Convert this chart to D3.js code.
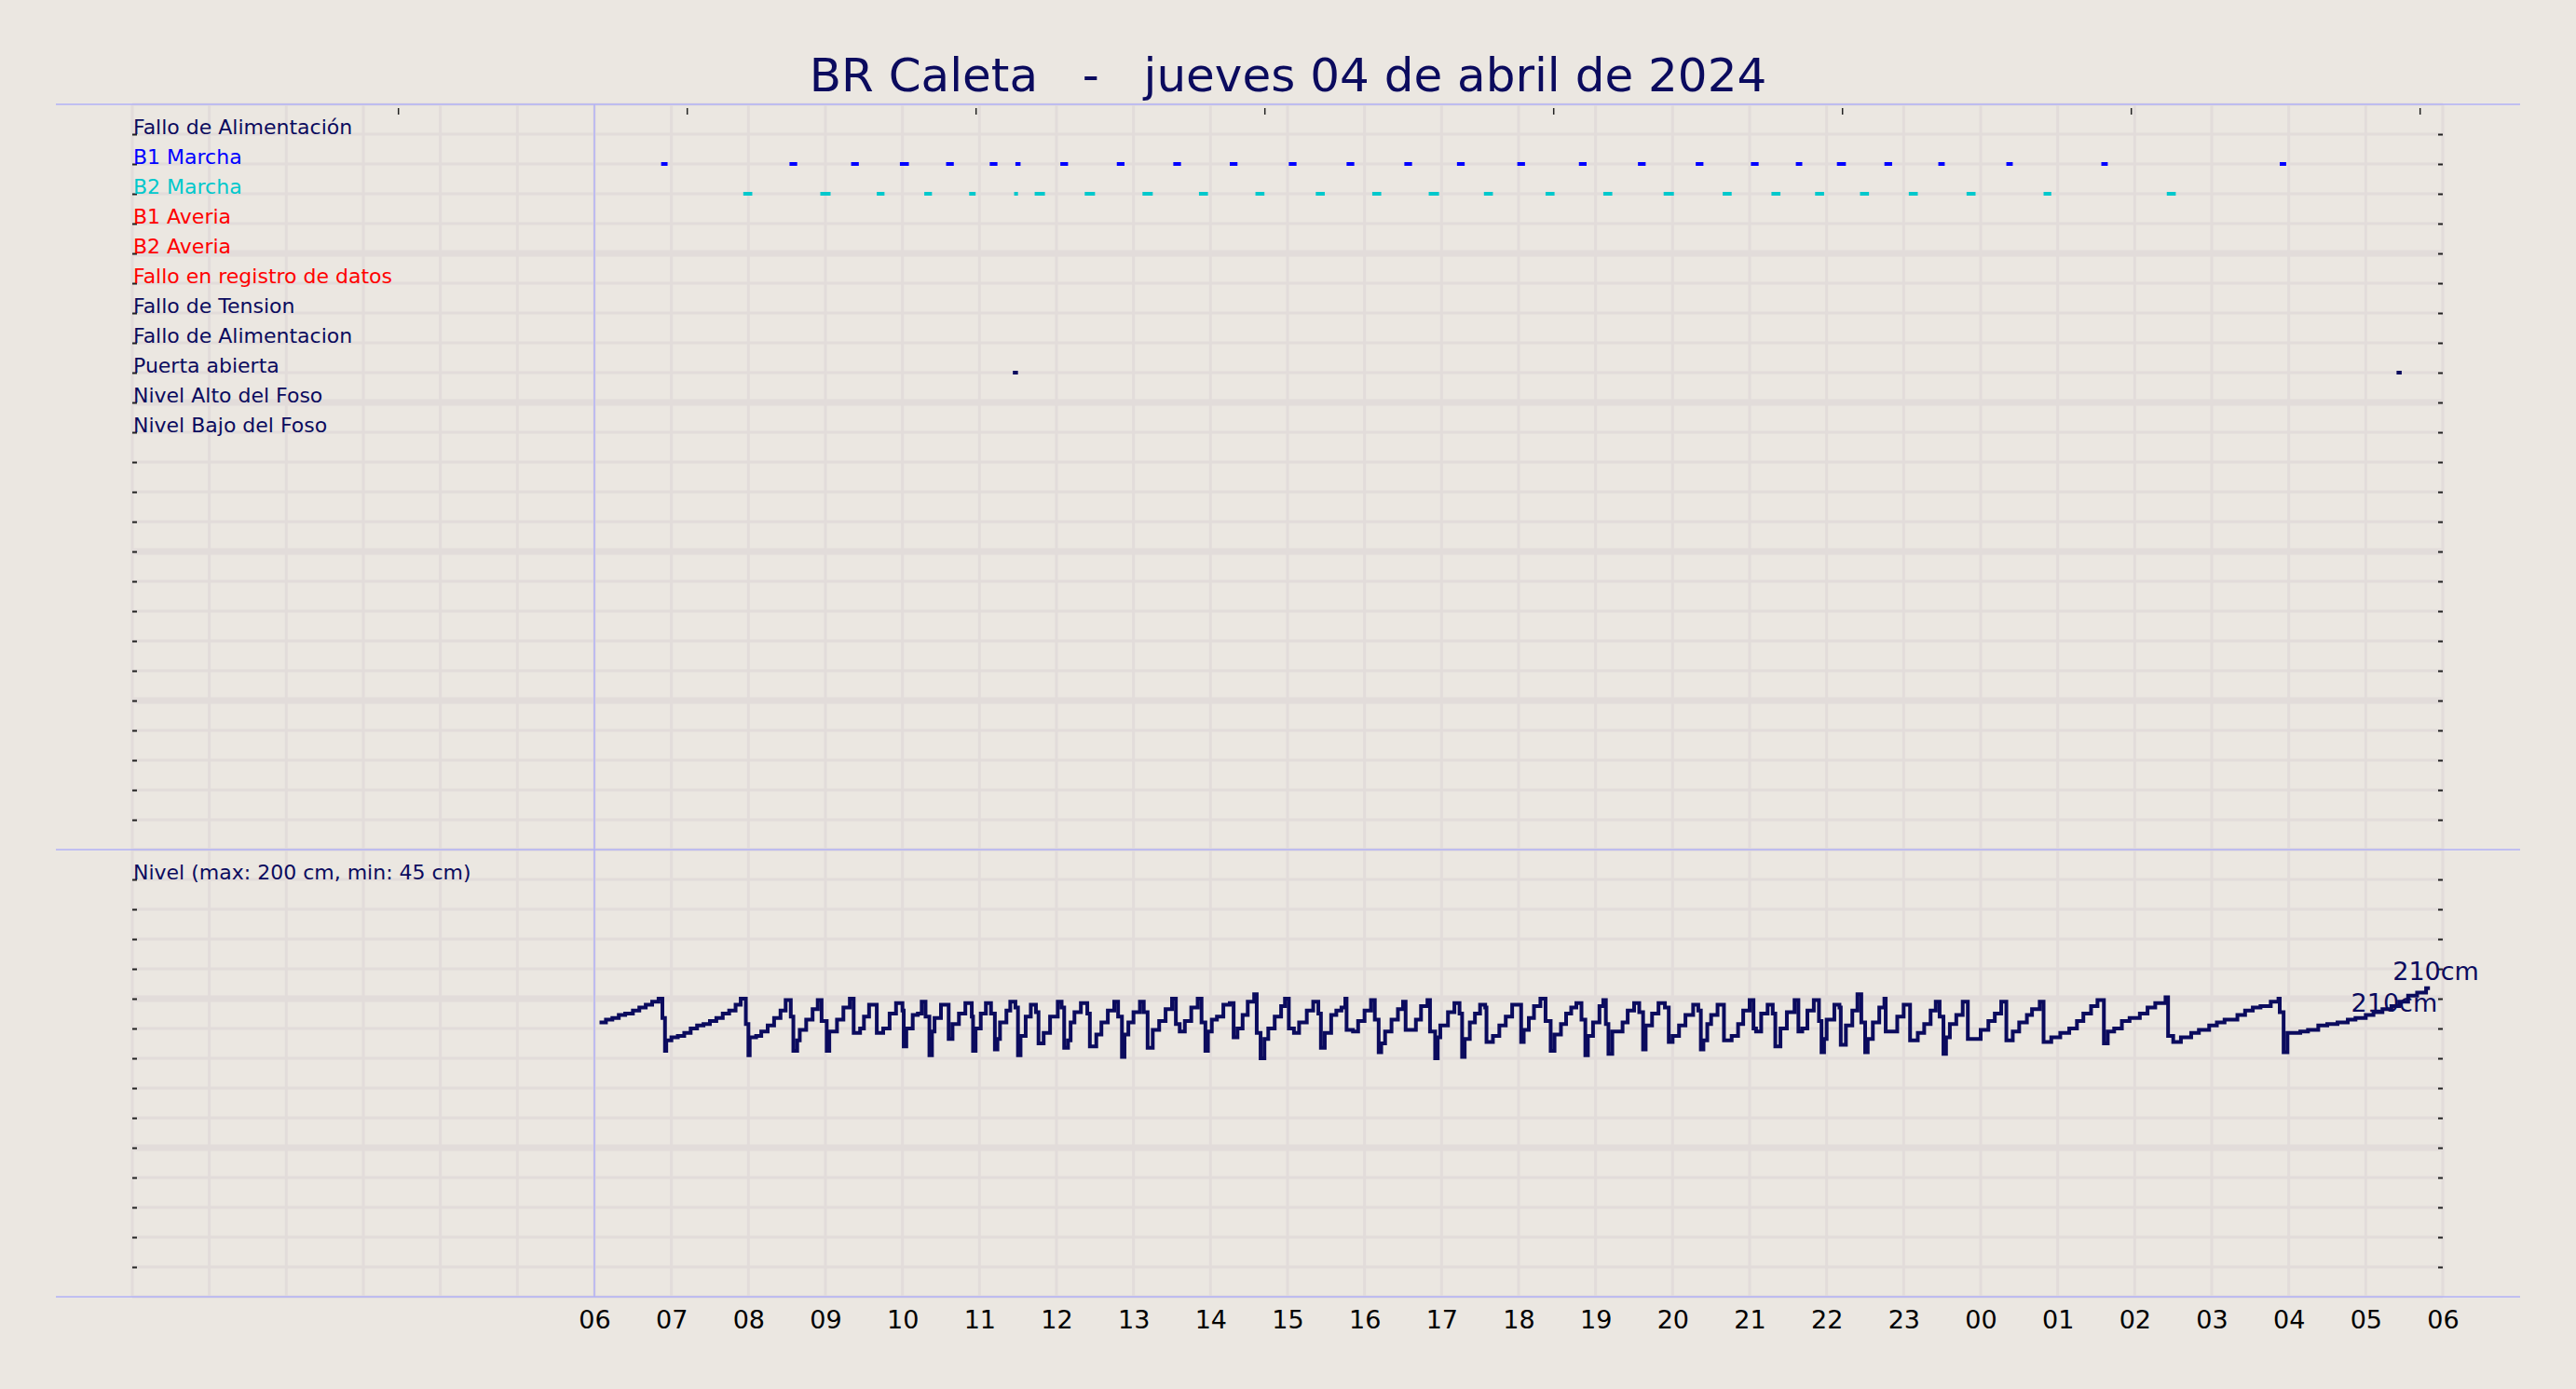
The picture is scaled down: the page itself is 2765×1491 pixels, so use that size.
<!DOCTYPE html>
<html lang="es">
<head>
  <meta charset="UTF-8">
  <title>BR Caleta</title>
  <style>
    body { margin: 0; background: #ebe7e1; }
    svg { display: block; }
  </style>
</head>
<body>
<script src="https://cdn.jsdelivr.net/npm/d3@7"></script>
<script>
const width = 2765, height = 1491

const titulo = "BR Caleta   -   jueves 04 de abril de 2024"

// filas del panel de señales (de arriba abajo)
const senales = ["Fallo de Alimentación", "B1 Marcha", "B2 Marcha", "B1 Averia", "B2 Averia",
  "Fallo en registro de datos", "Fallo de Tension", "Fallo de Alimentacion", "Puerta abierta",
  "Nivel Alto del Foso", "Nivel Bajo del Foso"]
const coloresSenal = ["#0b0b5e", "#0000ff", "#00c8cc", "#ff0000", "#ff0000",
  "#ff0000", "#0b0b5e", "#0b0b5e", "#0b0b5e", "#0b0b5e", "#0b0b5e"]

// marchas de bombas y eventos [inicio, fin]
const b1Marcha = [["06:52","06:57"],["08:32","08:38"],["09:20","09:26"],["09:58","10:05"],["10:34","10:40"],
  ["11:08","11:14"],["11:28","11:32"],["12:03","12:09"],["12:47","12:53"],["13:31","13:37"],["14:15","14:21"],
  ["15:01","15:07"],["15:46","15:52"],["16:31","16:37"],["17:12","17:18"],["17:59","18:05"],["18:47","18:53"],
  ["19:33","19:39"],["20:18","20:24"],["21:01","21:07"],["21:36","21:41"],["22:08","22:15"],["22:45","22:51"],
  ["23:27","23:32"],["00:20","00:25"],["01:34","01:39"],["03:53","03:58"]]
const b2Marcha = [["07:56","08:03"],["08:56","09:04"],["09:40","09:46"],["10:17","10:23"],["10:52","10:57"],
  ["11:27","11:30"],["11:43","11:51"],["12:22","12:30"],["13:07","13:15"],["13:51","13:58"],["14:35","14:42"],
  ["15:22","15:29"],["16:06","16:13"],["16:50","16:58"],["17:33","17:40"],["18:21","18:28"],["19:06","19:13"],
  ["19:53","20:01"],["20:39","20:46"],["21:17","21:24"],["21:51","21:58"],["22:26","22:33"],["23:04","23:11"],
  ["23:49","23:56"],["00:49","00:55"],["02:25","02:32"]]
const puertaAbierta = [["11:26","11:30"],["05:24","05:28"]]

// nivel del foso en cm [hora, cm]
const nivel = [["06:04",184],["06:09",186],["06:14",187],["06:19",189],["06:24",190],["06:30",192],["06:35",194],
  ["06:40",196],["06:45",198],["06:50",200],["06:53",187],["06:55",165],["06:56",172],["07:00",174],["07:05",175],
  ["07:10",177],["07:15",180],["07:20",182],["07:25",183],["07:30",185],["07:35",187],["07:40",190],["07:45",192],
  ["07:50",196],["07:54",200],["07:58",183],["08:00",162],["08:01",174],["08:06",175],["08:10",178],["08:15",182],
  ["08:20",187],["08:25",192],["08:29",199],["08:33",188],["08:35",165],["08:38",172],["08:40",179],["08:45",186],
  ["08:50",193],["08:54",199],["08:57",185],["09:01",165],["09:03",178],["09:09",186],["09:14",194],["09:19",200],
  ["09:22",177],["09:27",180],["09:30",188],["09:34",196],["09:40",177],["09:45",180],["09:50",190],["09:55",197],
  ["10:00",192],["10:01",168],["10:03",180],["10:08",189],["10:12",190],["10:15",198],["10:18",188],["10:21",162],
  ["10:23",178],["10:25",187],["10:30",196],["10:36",173],["10:39",183],["10:44",190],["10:49",197],["10:54",188],
  ["10:55",165],["10:57",180],["11:01",190],["11:05",197],["11:09",190],["11:12",166],["11:14",173],["11:16",184],
  ["11:21",192],["11:24",198],["11:28",194],["11:30",162],["11:32",175],["11:36",188],["11:40",196],["11:44",191],
  ["11:46",170],["11:50",177],["11:55",188],["12:01",198],["12:04",194],["12:06",167],["12:09",172],["12:11",184],
  ["12:14",191],["12:19",197],["12:24",190],["12:26",168],["12:31",176],["12:35",184],["12:40",192],["12:45",198],
  ["12:48",188],["12:51",161],["12:53",176],["12:56",184],["13:00",191],["13:05",198],["13:08",191],["13:11",167],
  ["13:15",179],["13:20",185],["13:25",193],["13:30",200],["13:33",183],["13:36",178],["13:40",185],["13:45",194],
  ["13:50",200],["13:53",184],["13:56",165],["13:58",178],["14:01",186],["14:05",188],["14:10",196],["14:15",197],
  ["14:18",174],["14:21",180],["14:25",189],["14:29",198],["14:34",203],["14:36",177],["14:39",160],["14:42",173],
  ["14:45",180],["14:50",188],["14:55",195],["14:58",200],["15:01",180],["15:05",177],["15:09",184],["15:15",192],
  ["15:20",198],["15:24",190],["15:26",167],["15:29",177],["15:34",189],["15:38",192],["15:42",194],["15:45",200],
  ["15:46",179],["15:51",178],["15:55",185],["16:00",192],["16:05",199],["16:08",186],["16:11",164],["16:13",170],
  ["16:16",178],["16:21",186],["16:26",193],["16:30",198],["16:32",179],["16:40",186],["16:44",195],["16:49",199],
  ["16:51",178],["16:55",160],["16:57",174],["16:59",182],["17:05",191],["17:10",197],["17:14",190],["17:16",161],
  ["17:18",173],["17:22",184],["17:26",190],["17:30",196],["17:34",194],["17:35",171],["17:40",175],["17:45",182],
  ["17:50",188],["17:55",196],["18:02",171],["18:04",179],["18:08",187],["18:12",195],["18:17",200],["18:21",185],
  ["18:25",165],["18:28",176],["18:33",183],["18:37",190],["18:41",194],["18:45",197],["18:49",186],["18:52",162],
  ["18:54",175],["18:58",184],["19:03",195],["19:06",199],["19:08",183],["19:10",163],["19:13",178],["19:21",184],
  ["19:25",192],["19:30",197],["19:34",191],["19:37",166],["19:39",182],["19:44",190],["19:49",197],["19:54",194],
  ["19:57",171],["20:00",175],["20:05",182],["20:10",189],["20:16",196],["20:20",192],["20:22",166],["20:24",172],
  ["20:27",183],["20:30",189],["20:35",196],["20:40",172],["20:46",175],["20:51",183],["20:55",192],["21:00",199],
  ["21:03",180],["21:05",178],["21:09",190],["21:14",196],["21:18",190],["21:20",168],["21:24",180],["21:29",191],
  ["21:35",199],["21:38",178],["21:41",180],["21:45",192],["21:50",199],["21:54",185],["21:56",164],["21:58",173],
  ["22:00",186],["22:06",196],["22:10",194],["22:11",169],["22:15",182],["22:20",192],["22:24",203],["22:27",184],
  ["22:30",164],["22:32",173],["22:36",184],["22:41",194],["22:45",200],["22:46",178],["22:55",188],["23:00",196],
  ["23:05",172],["23:11",177],["23:16",183],["23:21",192],["23:25",198],["23:28",188],["23:31",163],["23:33",174],
  ["23:36",183],["23:41",189],["23:46",198],["23:50",173],["00:00",179],["00:06",185],["00:11",190],["00:16",198],
  ["00:20",172],["00:25",178],["00:30",184],["00:36",189],["00:40",193],["00:46",198],["00:49",171],["00:55",174],
  ["01:02",177],["01:09",180],["01:15",185],["01:20",190],["01:26",195],["01:31",199],["01:36",170],["01:39",178],
  ["01:44",180],["01:50",185],["01:56",187],["02:04",190],["02:10",194],["02:16",197],["02:24",201],["02:26",175],
  ["02:30",171],["02:36",174],["02:44",177],["02:50",179],["02:58",182],["03:04",184],["03:10",186],["03:20",189],
  ["03:26",192],["03:32",194],["03:38",195],["03:46",198],["03:52",200],["03:53",191],["03:56",164],["03:59",177],
  ["04:09",178],["04:15",179],["04:23",182],["04:30",183],["04:38",184],["04:46",186],["04:52",187],["05:00",189],
  ["05:06",191],["05:13",193],["05:20",195],["05:26",198],["05:33",202],["05:40",204],["05:47",207],["05:50",207]]

const nivelTexto = "Nivel (max: 200 cm, min: 45 cm)"
const etiquetaFinal = "210cm"

// horas antes de las 06 son del dia siguiente
const hora = s => {
  const [h, m] = s.split(":").map(Number)
  return new Date(2024, 3, h < 6 ? 5 : 4, h, m)
}

const left = 142, right = 2622
const topY = 112, midY = 912, botY = 1392
const navy = "#0b0b5e", grid = "#e2dcda", lavanda = "#b2b2f6"
const fuente = "DejaVu Sans, sans-serif"

const x = d3.scaleTime()
  .domain([new Date(2024, 3, 4, 0, 0), new Date(2024, 3, 5, 6, 0)])
  .range([left, right])
const ySen = d3.scaleLinear().domain([0, 25]).range([topY, midY])
const yNivel = d3.scaleLinear().domain([0, 300]).range([botY, midY])
const xTop = d3.scaleLinear().domain([-0.92, 7.08]).range([left, right])

const svg = d3.select("body").append("svg")
  .attr("width", width).attr("height", height)
  .style("font-family", fuente)

svg.append("rect").attr("width", width).attr("height", height).attr("fill", "#ebe7e1")

// rejilla vertical (cada hora)
const horas = x.ticks(d3.timeHour.every(1))
svg.append("g").selectAll("line").data(horas).enter().append("line")
  .attr("x1", d => x(d)).attr("x2", d => x(d))
  .attr("y1", topY).attr("y2", botY)
  .attr("stroke", grid).attr("stroke-width", 3)

// rejilla horizontal
const filasSen = d3.range(0, 26)
const filasNivel = d3.range(0, 301, 20)
const gGrid = svg.append("g")
gGrid.selectAll(".hs").data(filasSen).enter().append("line")
  .attr("x1", left).attr("x2", right)
  .attr("y1", d => ySen(d)).attr("y2", d => ySen(d))
  .attr("stroke", grid).attr("stroke-width", d => (d % 5 == 0 && d > 0 && d < 25) ? 7 : 3)
gGrid.selectAll(".hn").data(filasNivel).enter().append("line")
  .attr("x1", left).attr("x2", right)
  .attr("y1", d => yNivel(d)).attr("y2", d => yNivel(d))
  .attr("stroke", grid).attr("stroke-width", d => (d == 100 || d == 200) ? 7 : 3)

// ticks interiores izquierda / derecha
const ticksSen = d3.range(1, 25)
const ticksNivel = d3.range(20, 281, 20)
const marcas = (g) => g.call(s => s.select(".domain").remove())
  .call(s => s.selectAll("line").attr("stroke", "#222").attr("stroke-width", 2))
svg.append("g").attr("transform", `translate(${left + 5},0)`)
  .call(d3.axisLeft(ySen).tickValues(ticksSen).tickSize(5).tickFormat("")).call(marcas)
svg.append("g").attr("transform", `translate(${right - 5},0)`)
  .call(d3.axisRight(ySen).tickValues(ticksSen).tickSize(5).tickFormat("")).call(marcas)
svg.append("g").attr("transform", `translate(${left + 5},0)`)
  .call(d3.axisLeft(yNivel).tickValues(ticksNivel).tickSize(5).tickFormat("")).call(marcas)
svg.append("g").attr("transform", `translate(${right - 5},0)`)
  .call(d3.axisRight(yNivel).tickValues(ticksNivel).tickSize(5).tickFormat("")).call(marcas)
svg.append("g").attr("transform", `translate(0,${topY + 11})`)
  .call(d3.axisTop(xTop).tickValues(d3.range(0, 8)).tickSize(7).tickFormat(""))
  .call(s => s.select(".domain").remove())
  .call(s => s.selectAll("line").attr("stroke", "#222").attr("stroke-width", 1.5))

// etiquetas de señales
svg.append("g").selectAll("text").data(senales).enter().append("text")
  .attr("x", left + 1).attr("y", (d, i) => ySen(i + 1))
  .attr("font-size", 22).attr("fill", (d, i) => coloresSenal[i])
  .text(d => d)

// tramos de marcha
const tramos = (datos, fila, color) => svg.append("g").selectAll("line").data(datos).enter().append("line")
  .attr("x1", d => x(hora(d[0]))).attr("x2", d => x(hora(d[1])))
  .attr("y1", ySen(fila)).attr("y2", ySen(fila))
  .attr("stroke", color).attr("stroke-width", 4)
tramos(b1Marcha, 2, "#0000ff")
tramos(b2Marcha, 3, "#00c8cc")
tramos(puertaAbierta, 9, navy)

// nivel
svg.append("text").attr("x", left + 1).attr("y", yNivel(280))
  .attr("font-size", 22).attr("fill", navy).text(nivelTexto)

const datosNivel = nivel.map(d => ({ t: hora(d[0]), v: d[1] }))
const linea = d3.line().x(d => x(d.t)).y(d => yNivel(d.v)).curve(d3.curveStepAfter)
svg.append("path").datum(datosNivel)
  .attr("d", linea).attr("fill", "none")
  .attr("stroke", navy).attr("stroke-width", 4)

const ultimo = datosNivel[datosNivel.length - 1]
svg.append("text").attr("x", x(ultimo.t) - 40).attr("y", yNivel(ultimo.v) - 9)
  .attr("font-size", 27).attr("fill", navy).text(etiquetaFinal)
svg.append("text").attr("x", x(ultimo.t) + 8).attr("y", yNivel(ultimo.v) + 25)
  .attr("text-anchor", "end").attr("font-size", 27).attr("fill", navy).text(etiquetaFinal)

// lineas lavanda de marco
svg.append("g").selectAll("line").data([topY, midY, botY]).enter().append("line")
  .attr("x1", 60).attr("x2", 2705).attr("y1", d => d).attr("y2", d => d)
  .attr("stroke", lavanda).attr("stroke-width", 1.5)
svg.append("line")
  .attr("x1", x(new Date(2024, 3, 4, 6))).attr("x2", x(new Date(2024, 3, 4, 6)))
  .attr("y1", topY).attr("y2", botY)
  .attr("stroke", lavanda).attr("stroke-width", 1.5)

// eje x: etiquetas solo desde las 06
const etiquetasX = horas.filter(d => d >= new Date(2024, 3, 4, 6))
svg.append("g").attr("transform", `translate(0,${botY})`)
  .call(d3.axisBottom(x).tickValues(etiquetasX).tickSize(0).tickPadding(0).tickFormat(d3.timeFormat("%H")))
  .call(s => s.select(".domain").remove())
  .call(s => s.selectAll("text").attr("y", 34).attr("dy", null)
    .attr("font-size", 27).attr("font-family", fuente).attr("fill", "#000"))

// titulo
svg.append("text").attr("x", width / 2).attr("y", 98)
  .attr("text-anchor", "middle").attr("font-size", 50).attr("fill", navy)
  .style("white-space", "pre").text(titulo)
</script>
</body>
</html>
